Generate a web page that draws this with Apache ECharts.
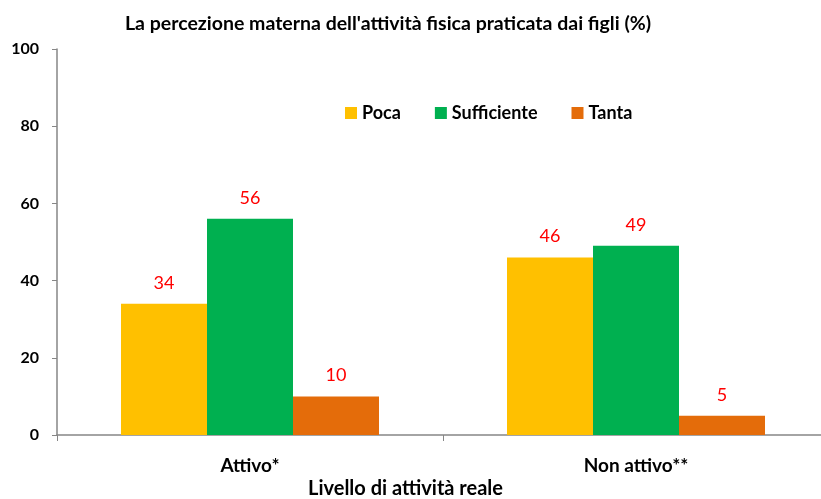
<!DOCTYPE html>
<html>
<head>
<meta charset="utf-8">
<script src="https://cdn.jsdelivr.net/npm/echarts@6/dist/echarts.min.js"></script>
<style>
  html, body { margin: 0; padding: 0; background: #fff; }
  #chart { width: 821px; height: 499px; }
</style>
</head>
<body>
<div id="chart"></div>
<script>
  const categories = ['Attivo*', 'Non attivo**']
  const poca = [34, 46]
  const sufficiente = [56, 49]
  const tanta = [10, 5]
  const yTicks = [0, 20, 40, 60, 80, 100]

  const font = 'Lato, "Open Sans", sans-serif'
  const chart = echarts.init(document.getElementById('chart'))

  function barSeries (name, data, color) {
    return {
      name: name,
      type: 'bar',
      data: data,
      barWidth: 86,
      barGap: '0%',
      itemStyle: { color: color },
      label: {
        show: true,
        position: 'top',
        distance: 12,
        color: '#ff0000',
        fontFamily: font,
        fontSize: 18
      }
    }
  }

  chart.setOption({
    animation: false,
    title: {
      text: "La percezione materna dell'attività fisica praticata dai figli (%)",
      left: 383,
      top: 9,
      textAlign: 'center',
      textStyle: { fontFamily: font, fontSize: 19.5, fontWeight: 'bold', color: '#000' }
    },
    legend: {
      data: ['Poca', 'Sufficiente', 'Tanta'],
      left: 340,
      top: 99,
      itemWidth: 12,
      itemHeight: 12,
      itemGap: 34,
      icon: 'rect',
      textStyle: { fontFamily: font, fontSize: 18, fontWeight: 'bold', color: '#000' }
    },
    grid: { left: 57, width: 772, top: 49, bottom: 64, outerBoundsMode: 'none' },
    xAxis: {
      type: 'category',
      data: categories,
      axisLine: { lineStyle: { color: '#868686', width: 1.5 } },
      axisTick: { show: true, length: 6, lineStyle: { color: '#868686' } },
      axisLabel: { margin: 21, fontFamily: font, fontSize: 19, fontWeight: 'bold', color: '#000' }
    },
    yAxis: {
      type: 'value',
      min: yTicks[0],
      max: yTicks[yTicks.length - 1],
      interval: 20,
      splitLine: { show: false },
      axisLine: { show: true, lineStyle: { color: '#868686', width: 1.5 } },
      axisTick: { show: true, length: 5, lineStyle: { color: '#868686' } },
      axisLabel: { margin: 18, fontFamily: font, fontSize: 16, fontWeight: 'bold', color: '#000' }
    },
    graphic: [{
      type: 'text',
      left: 308,
      top: 479,
      style: {
        text: 'Livello di attività reale',
        fontFamily: font,
        fontSize: 20,
        fontWeight: 'bold',
        fill: '#000'
      }
    }],
    series: [
      barSeries('Poca', poca, '#FFC000'),
      barSeries('Sufficiente', sufficiente, '#00B050'),
      barSeries('Tanta', tanta, '#E46C0A')
    ]
  })
</script>
</body>
</html>
